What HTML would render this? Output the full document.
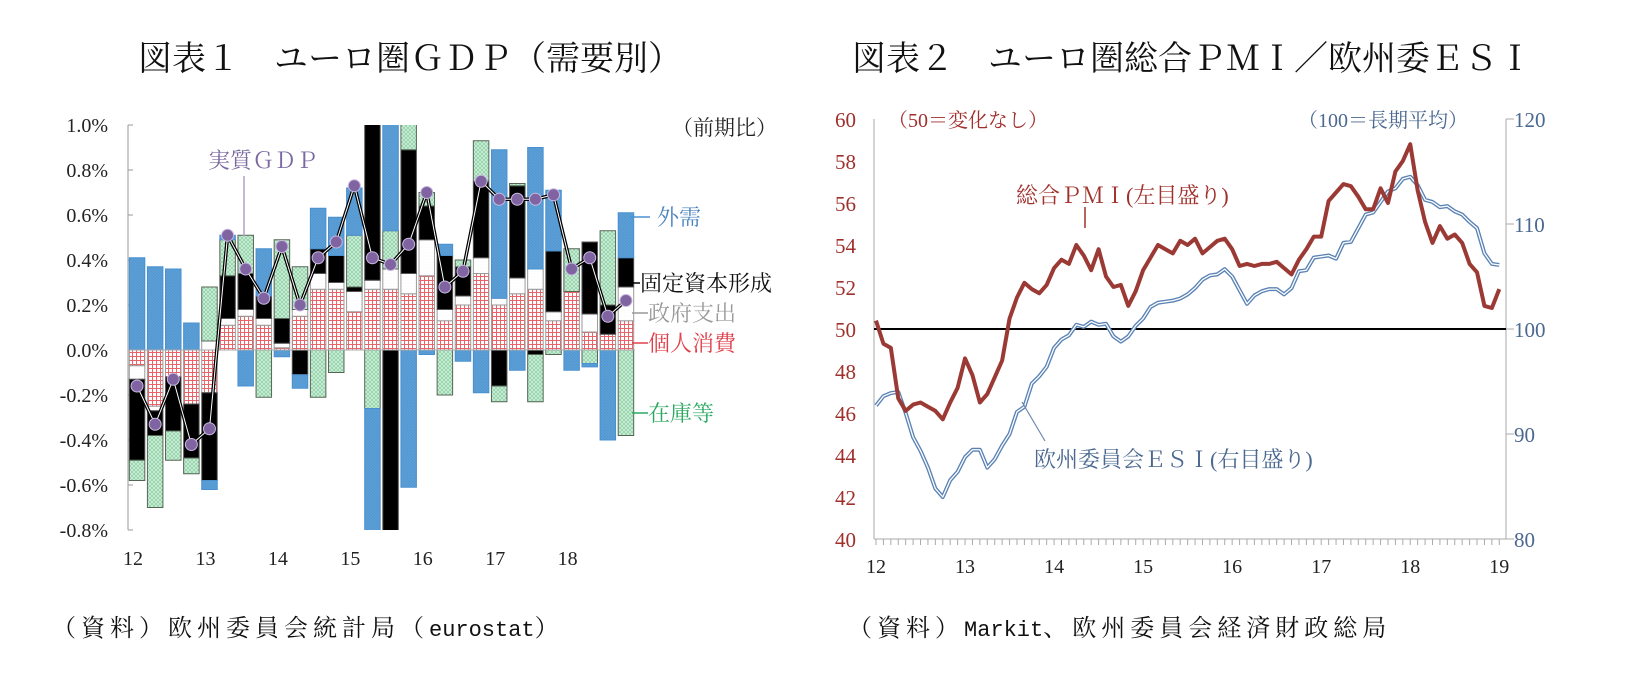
<!DOCTYPE html>
<html><head><meta charset="utf-8">
<style>
html,body{margin:0;padding:0;background:#fff;}
svg text{font-family:"Liberation Serif","Noto Serif CJK SC","Noto Sans CJK JP",serif;}
</style></head>
<body>
<svg id="chart" width="1647" height="683" viewBox="0 0 1647 683" xmlns="http://www.w3.org/2000/svg">
<defs>
<pattern id="pRed" width="4" height="4" patternUnits="userSpaceOnUse"><rect width="4" height="4" fill="#fff"/><path d="M0 0.5H4M0.5 0V4" stroke="#e8646a" stroke-width="1"/></pattern>
<pattern id="pGreen" width="4" height="4" patternUnits="userSpaceOnUse"><rect width="4" height="4" fill="#d2f0dc"/><path d="M0 0L4 4M4 0L0 4" stroke="#8fd1a8" stroke-width="0.8"/></pattern>
<pattern id="pBlue" width="3" height="3" patternUnits="userSpaceOnUse"><rect width="3" height="3" fill="#5b9fd8"/><path d="M0 0L3 3" stroke="#4f90c8" stroke-width="0.6"/></pattern>
<pattern id="pWhite" width="3" height="3" patternUnits="userSpaceOnUse"><rect width="3" height="3" fill="#fff"/><circle cx="1" cy="1" r="0.3" fill="#ddd"/></pattern>
</defs>
<text x="410" y="70" font-size="34" text-anchor="middle" fill="#111">図表１　ユーロ圏ＧＤＰ（需要別）</text>
<text x="1192" y="70" font-size="34" text-anchor="middle" fill="#111">図表２　ユーロ圏総合ＰＭＩ／欧州委ＥＳＩ</text>
<text x="52" y="636" font-size="24" fill="#111"><tspan letter-spacing="5">（資料）欧州委員会統計局（</tspan><tspan font-family="'Liberation Mono',monospace" font-size="22">eurostat</tspan><tspan>）</tspan></text>
<text x="848" y="636" font-size="24" fill="#111"><tspan letter-spacing="5">（資料）</tspan><tspan font-family="'Liberation Mono',monospace" font-size="22">Markit</tspan><tspan letter-spacing="5">、欧州委員会経済財政総局</tspan></text>
<g id="left"></g>
<g id="right"></g>
</svg>
<script>
// ---------- Left chart data ----------
const quarters = ["12Q1","12Q2","12Q3","12Q4","13Q1","13Q2","13Q3","13Q4","14Q1","14Q2","14Q3","14Q4","15Q1","15Q2","15Q3","15Q4","16Q1","16Q2","16Q3","16Q4","17Q1","17Q2","17Q3","17Q4","18Q1","18Q2","18Q3","18Q4"];
const consumption = [-0.07,-0.25,-0.12,-0.24,-0.19,0.11,0.15,0.11,0.01,0.15,0.27,0.27,0.17,0.27,0.27,0.25,0.33,0.13,0.2,0.34,0.2,0.25,0.27,0.13,0.26,0.08,0.07,0.13];
const government = [-0.06,-0.02,0,0,0.04,0.03,0.03,0.03,0.02,0.03,0.07,0.03,0.09,0.04,0.09,0.09,0.16,0.05,0.04,0.07,0.03,0.07,0.09,0.04,0,0.08,0,0.15];
const investment = [-0.36,-0.11,-0.24,-0.24,-0.39,0.19,0.16,0.10,0.11,-0.11,0.11,0.12,0.02,0.75,-0.9,0.55,0.15,0.24,0.13,0.34,-0.16,0.41,-0.02,0.27,0,0.32,0.13,0.13];
const inventory = [-0.09,-0.32,-0.13,-0.07,0.24,0.16,0.17,-0.21,0.35,0.19,-0.21,-0.10,0.23,-0.26,0.17,0.15,0.06,-0.2,0.03,0.18,-0.07,0.01,-0.21,-0.02,0.19,-0.06,0.33,-0.38];
const external = [0.41,0.37,0.36,0.12,-0.04,0.02,-0.16,0.21,-0.03,-0.06,0.18,0.17,0.21,-0.6,0.6,-0.61,-0.02,0.05,-0.05,-0.19,0.66,-0.09,0.54,0.27,-0.09,-0.015,-0.4,0.2];
const gdp = [-0.16,-0.33,-0.13,-0.42,-0.35,0.51,0.36,0.23,0.46,0.20,0.41,0.48,0.73,0.41,0.38,0.47,0.70,0.28,0.35,0.75,0.67,0.67,0.67,0.69,0.36,0.41,0.15,0.22];
const leftTicks = [1.0,0.8,0.6,0.4,0.2,0.0,-0.2,-0.4,-0.6,-0.8];
const yearLabels = ["12","13","14","15","16","17","18"];

// ---------- Right chart data ----------
const pmi = [50.4,49.3,49.1,46.7,46.1,46.4,46.5,46.3,46.1,45.7,46.5,47.2,48.6,47.8,46.5,46.9,47.7,48.5,50.5,51.5,52.2,51.9,51.7,52.1,52.9,53.3,53.1,54.0,53.5,52.8,53.8,52.5,52.0,52.1,51.1,51.8,52.8,53.4,54.0,53.8,53.6,54.2,54.0,54.3,53.6,53.9,54.2,54.3,53.8,53.0,53.1,53.0,53.1,53.1,53.2,52.9,52.6,53.3,53.8,54.4,54.4,56.1,56.5,56.9,56.8,56.3,55.7,55.7,56.7,56.0,57.5,58.0,58.8,56.6,55.1,54.1,54.9,54.3,54.5,54.1,53.1,52.7,51.1,51.0,51.9];
const esi = [92.7,93.6,93.9,94.0,92.0,89.7,88.4,86.8,84.8,84.0,85.6,86.4,87.8,88.5,88.5,86.8,87.6,88.9,90.0,92.1,92.6,94.8,95.5,96.4,98.2,99.0,99.4,100.4,100.2,100.7,100.4,100.5,99.3,98.8,99.3,100.3,101.0,102.1,102.5,102.6,102.7,102.9,103.3,103.9,104.7,105.1,105.2,105.7,105.0,103.7,102.4,103.2,103.6,103.8,103.8,103.3,103.9,105.5,105.6,106.8,106.9,107.0,106.7,108.2,108.3,109.6,110.9,111.1,112.1,113.1,113.4,114.3,114.5,113.7,112.3,112.1,111.6,111.7,111.2,110.9,110.2,109.6,107.2,106.2,106.1];
const pmiTicks = [60,58,56,54,52,50,48,46,44,42,40];
const esiTicks = [120,110,100,90,80];
const rightYears = ["12","13","14","15","16","17","18","19"];

const NS = "http://www.w3.org/2000/svg";
function mk(parent, tag, attrs, text){
  const e = document.createElementNS(NS, tag);
  for (const k in attrs) e.setAttribute(k, attrs[k]);
  if (text !== undefined) e.textContent = text;
  parent.appendChild(e);
  return e;
}

// ===== Left chart =====
(function(){
  const g = document.getElementById("left");
  const L = 128, R = 635, T = 125, B = 530;
  const yMin = -0.8, yMax = 1.0;
  const y = v => T + (yMax - v) / (yMax - yMin) * (B - T);
  const pitch = (R - L) / quarters.length;
  const xc = i => L + pitch * (i + 0.5);
  const bw = 15.5;

  const ax = mk(g, "line", {x1:L, y1:T, x2:L, y2:B, stroke:"#999", "stroke-width":1});
  
  
  leftTicks.forEach(t => {
    const tk = mk(g, "line", {x1:L, y1:y(t), x2:L+5, y2:y(t), stroke:"#999", "stroke-width":1});
    
    
    const lb = mk(g, "text", {x:L-20, y:y(t)+7, "font-size":20, "text-anchor":"end", fill:"#222"}, t.toFixed(1) + "%");
    
    
  });
  yearLabels.forEach((yr, k) => {
    const lb = mk(g, "text", {x:xc(k*4)-4, y:565, "font-size":20, "text-anchor":"middle", fill:"#222"}, yr);
    
    
  });

  const clip = mk(g, "clipPath", {id:"leftClip"});
  mk(clip, "rect", {x:L, y:T, width:R-L, height:B-T});
  const bars = mk(g, "g", {"clip-path":"url(#leftClip)"});
  const series = [
    {d:consumption, fill:"url(#pRed)", stroke:"#9a9a9a", name:"consumption"},
    {d:government, fill:"url(#pWhite)", stroke:"#9a9a9a", name:"government"},
    {d:investment, fill:"#000", stroke:"#555", name:"investment"},
    {d:inventory, fill:"url(#pGreen)", stroke:"#556655", name:"inventory"},
    {d:external, fill:"url(#pBlue)", stroke:"#4a90d0", name:"external"}
  ];
  quarters.forEach((q, i) => {
    let pos = 0, neg = 0;
    series.forEach(s => {
      const v = s.d[i];
      if (!v) return;
      let a, b;
      if (v > 0) { a = pos; b = pos + v; pos = b; } else { a = neg; b = neg + v; neg = b; }
      const top = y(Math.max(a,b)), bot = y(Math.min(a,b));
      const r = mk(bars, "rect", {x:xc(i)-bw/2, y:top, width:bw, height:Math.max(bot-top,0.5), fill:s.fill, stroke:s.stroke, "stroke-width":1});
      
      
    });
  });
  const zl = mk(g, "line", {x1:L, y1:y(0), x2:R, y2:y(0), stroke:"#aaa", "stroke-width":1});
  
  

  const pts = gdp.map((v,i) => xc(i) + "," + y(v)).join(" ");
  const l1 = mk(g, "polyline", {points:pts, fill:"none", stroke:"#000", "stroke-width":3.5});
  
  
  const l2 = mk(g, "polyline", {points:pts, fill:"none", stroke:"#fff", "stroke-width":1});
  
  
  gdp.forEach((v,i) => {
    const c = mk(g, "circle", {cx:xc(i), cy:y(v), r:6, fill:"#8064a2", stroke:"#c8b8e0", "stroke-width":1});
    
    
  });
})();

// ===== Right chart =====
(function(){
  const g = document.getElementById("right");
  const L = 874, R = 1506, T = 119, B = 539;
  const yL = v => T + (60 - v) / 20 * (B - T);
  const yR = v => T + (120 - v) / 40 * (B - T);
  const mx = m => 876 + m * 7.42;

  const a1 = mk(g, "line", {x1:L, y1:T, x2:L, y2:B, stroke:"#aaa", "stroke-width":1});
  
  
  const a2 = mk(g, "line", {x1:R, y1:T, x2:R, y2:B, stroke:"#aaa", "stroke-width":1});
  
  
  const a3 = mk(g, "line", {x1:L, y1:B, x2:R, y2:B, stroke:"#aaa", "stroke-width":1});
  
  
  for (let m = 0; m <= 84; m++) {
    const tk = mk(g, "line", {x1:mx(m), y1:B, x2:mx(m), y2:B+6, stroke:"#aaa", "stroke-width":1});
    
    
  }
  rightYears.forEach((yr,k) => {
    const lb = mk(g, "text", {x:mx(k*12), y:573, "font-size":20, "text-anchor":"middle", fill:"#222"}, yr);
    
    
  });
  pmiTicks.forEach(t => {
    const lb = mk(g, "text", {x:856, y:yL(t)+8, "font-size":21, "text-anchor":"end", fill:"#a0302c"}, String(t));
    
    
  });
  esiTicks.forEach(t => {
    const tk = mk(g, "line", {x1:R, y1:yR(t), x2:R+8, y2:yR(t), stroke:"#aaa", "stroke-width":1});
    
    
    const lb = mk(g, "text", {x:1514, y:yR(t)+8, "font-size":21, fill:"#4a6890"}, String(t));
    
    
  });
  const ref = mk(g, "line", {x1:L, y1:yL(50), x2:R, y2:yL(50), stroke:"#000", "stroke-width":2});
  
  

  const ePts = esi.map((v,m) => mx(m) + "," + yR(v)).join(" ");
  const e1 = mk(g, "polyline", {points:ePts, fill:"none", stroke:"#5a82b4", "stroke-width":4, "stroke-linejoin":"round"});
  
  
  const e2 = mk(g, "polyline", {points:ePts, fill:"none", stroke:"#fff", "stroke-width":1.3, "stroke-linejoin":"round"});
  
  

  const pPts = pmi.map((v,m) => mx(m) + "," + yL(v)).join(" ");
  const p1 = mk(g, "polyline", {points:pPts, fill:"none", stroke:"#9b3a35", "stroke-width":4, "stroke-linejoin":"round"});
  
  
})();
</script>
<svg width="1647" height="683" style="position:absolute;left:0;top:0;pointer-events:none" xmlns="http://www.w3.org/2000/svg">
<g font-family="'Liberation Serif','Noto Serif CJK SC',serif">
<text x="672" y="135" font-size="21" fill="#222">（前期比）</text>
<text x="208" y="168" font-size="22" fill="#7a68a0">実質ＧＤＰ</text>
<line x1="244" y1="176" x2="244" y2="236" stroke="#b0a0cc" stroke-width="1.5"/>
<line x1="630" y1="217" x2="650" y2="217" stroke="#4a90d0" stroke-width="1.5"/>
<text x="657" y="225" font-size="22" fill="#4a82c0">外需</text>
<line x1="630" y1="283" x2="640" y2="283" stroke="#000" stroke-width="1.5"/>
<text x="640" y="291" font-size="22" fill="#111">固定資本形成</text>
<line x1="632" y1="313" x2="648" y2="313" stroke="#999" stroke-width="1.5"/>
<text x="648" y="321" font-size="22" fill="#999">政府支出</text>
<line x1="632" y1="343" x2="648" y2="343" stroke="#e0404a" stroke-width="1.5"/>
<text x="648" y="351" font-size="22" fill="#e0404a">個人消費</text>
<line x1="632" y1="413" x2="648" y2="413" stroke="#2aa860" stroke-width="1.5"/>
<text x="648" y="421" font-size="22" fill="#2aa860">在庫等</text>
<text x="888" y="127" font-size="20" fill="#a0302c">（50＝変化なし）</text>
<text x="1298" y="127" font-size="20" fill="#4a6890">（100＝長期平均）</text>
<text x="1016" y="203" font-size="22" fill="#a0302c">総合ＰＭＩ(左目盛り)</text>
<line x1="1085" y1="207" x2="1085" y2="228" stroke="#a0302c" stroke-width="1.5"/>
<text x="1034" y="467" font-size="22" fill="#4a6890">欧州委員会ＥＳＩ(右目盛り)</text>
<line x1="1045" y1="441" x2="1022" y2="402" stroke="#6a88b0" stroke-width="1.2"/>
</g>
</svg>
</body></html>
